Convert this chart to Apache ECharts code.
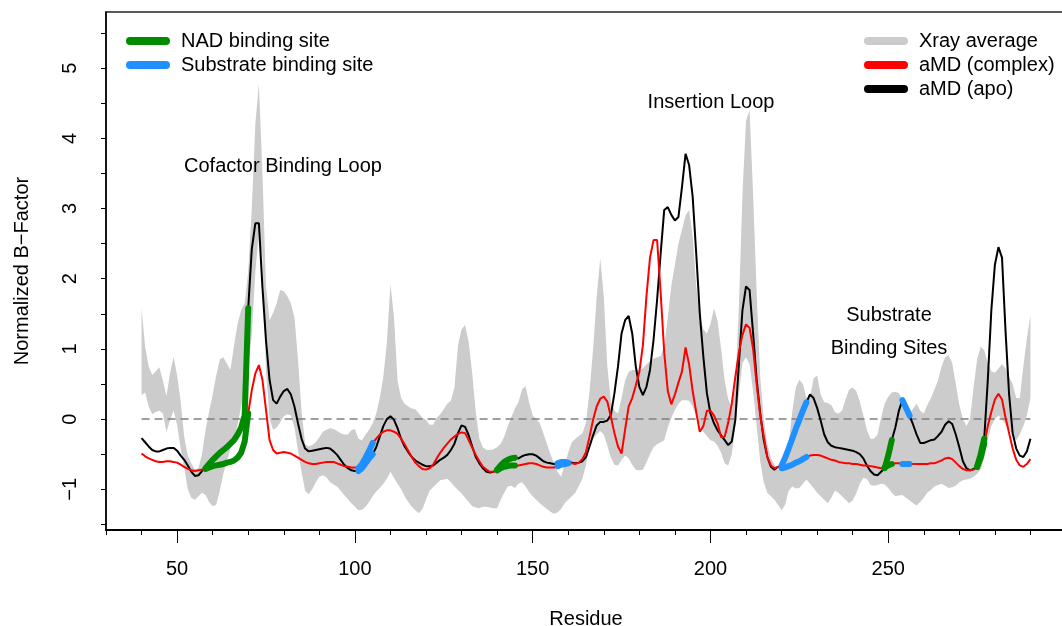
<!DOCTYPE html>
<html>
<head>
<meta charset="utf-8">
<title>Normalized B-Factor</title>
<script src="https://cdn.jsdelivr.net/npm/echarts@6.0.0/dist/echarts.min.js"></script>
<style>
  html, body { margin: 0; padding: 0; background: #fff; }
  #chart { width: 1062px; height: 626px; }
</style>
</head>
<body>
<div id="chart"></div>
<script>
// residues 40..290
const residues = [];
for (let r = 40; r <= 290; r++) residues.push(r);

// aMD (apo), one value per residue
const apo = [
  -0.27, -0.33, -0.39, -0.44, -0.46, -0.46, -0.44, -0.42, -0.41, -0.41,
  -0.45, -0.52, -0.58, -0.66, -0.75, -0.81, -0.80, -0.74, -0.70, -0.64,
  -0.58, -0.53, -0.48, -0.44, -0.40, -0.35, -0.30, -0.22, -0.12, 0.05,
  1.58, 2.42, 2.79, 2.79, 1.88, 1.12, 0.56, 0.27, 0.22, 0.32,
  0.40, 0.43, 0.35, 0.18, -0.06, -0.28, -0.42, -0.46, -0.45, -0.44,
  -0.43, -0.42, -0.41, -0.42, -0.46, -0.51, -0.58, -0.65, -0.70, -0.73,
  -0.74, -0.74, -0.70, -0.63, -0.56, -0.50, -0.40, -0.25, -0.10, 0.00,
  0.04, -0.01, -0.13, -0.28, -0.39, -0.47, -0.54, -0.59, -0.62, -0.65,
  -0.67, -0.67, -0.66, -0.62, -0.58, -0.55, -0.51, -0.44, -0.35, -0.20,
  -0.09, -0.11, -0.23, -0.39, -0.54, -0.63, -0.70, -0.75, -0.76, -0.75,
  -0.72, -0.66, -0.61, -0.58, -0.56, -0.55, -0.56, -0.53, -0.51, -0.50,
  -0.50, -0.52, -0.56, -0.60, -0.62, -0.63, -0.64, -0.63, -0.61, -0.61,
  -0.62, -0.62, -0.63, -0.62, -0.60, -0.54, -0.39, -0.23, -0.09, -0.04,
  -0.04, -0.02, 0.06, 0.37, 0.75, 1.22, 1.41, 1.47, 1.22, 0.75,
  0.46, 0.34, 0.46, 0.70, 1.13, 1.70, 2.36, 2.98, 3.02, 2.91,
  2.83, 2.88, 3.31, 3.78, 3.62, 3.17, 2.36, 1.51, 0.89, 0.37,
  0.08, -0.06, -0.16, -0.23, -0.30, -0.37, -0.32, -0.01, 0.79, 1.55,
  1.89, 1.84, 1.22, 0.56, 0.08, -0.30, -0.54, -0.68, -0.72, -0.68,
  -0.66, -0.55, -0.42, -0.28, -0.14, -0.01, 0.12, 0.24, 0.35, 0.30,
  0.16, -0.02, -0.22, -0.33, -0.38, -0.40, -0.41, -0.42, -0.43, -0.44,
  -0.45, -0.47, -0.50, -0.56, -0.66, -0.74, -0.79, -0.80, -0.75, -0.70,
  -0.52, -0.30, -0.12, 0.12, 0.27, 0.16, 0.05, -0.08, -0.22, -0.34,
  -0.34, -0.32, -0.30, -0.29, -0.24, -0.18, -0.08, -0.03, -0.07, -0.22,
  -0.40, -0.60, -0.70, -0.73, -0.71, -0.68, -0.50, -0.28, 0.55, 1.55,
  2.20, 2.45, 2.30, 1.25, 0.35, -0.20, -0.42, -0.52, -0.54, -0.46, -0.28
];

// aMD (complex)
const complex = [
  -0.49, -0.53, -0.56, -0.58, -0.60, -0.61, -0.61, -0.60, -0.60, -0.61,
  -0.62, -0.65, -0.68, -0.71, -0.73, -0.74, -0.73, -0.72, -0.71, -0.69,
  -0.67, -0.66, -0.65, -0.64, -0.62, -0.61, -0.59, -0.55, -0.48, -0.32,
  0.08, 0.41, 0.65, 0.77, 0.56, 0.13, -0.30, -0.44, -0.49, -0.48,
  -0.47, -0.48, -0.49, -0.52, -0.55, -0.58, -0.61, -0.63, -0.64, -0.64,
  -0.63, -0.62, -0.61, -0.61, -0.61, -0.63, -0.65, -0.67, -0.68, -0.69,
  -0.69, -0.70, -0.64, -0.55, -0.45, -0.34, -0.28, -0.22, -0.18, -0.16,
  -0.16, -0.18, -0.21, -0.28, -0.36, -0.45, -0.54, -0.62, -0.67, -0.71,
  -0.72, -0.70, -0.65, -0.56, -0.48, -0.41, -0.35, -0.29, -0.25, -0.21,
  -0.19, -0.20, -0.30, -0.41, -0.51, -0.60, -0.68, -0.72, -0.75, -0.75,
  -0.73, -0.70, -0.68, -0.67, -0.66, -0.66, -0.66, -0.65, -0.64, -0.63,
  -0.63, -0.64, -0.66, -0.68, -0.69, -0.69, -0.69, -0.67, -0.65, -0.64,
  -0.63, -0.63, -0.64, -0.62, -0.57, -0.47, -0.25, -0.01, 0.18, 0.29,
  0.32, 0.25, 0.03, -0.20, -0.39, -0.49, -0.15, 0.18, 0.30, 0.48,
  0.67, 1.05, 1.75, 2.30, 2.55, 2.55, 1.80, 0.95, 0.40, 0.21,
  0.35, 0.52, 0.68, 1.02, 0.78, 0.40, 0.10, -0.18, -0.10, 0.12,
  0.12, 0.05, -0.06, -0.26, -0.25, -0.05, 0.22, 0.60, 0.95, 1.20,
  1.35, 1.30, 1.00, 0.50, 0.05, -0.25, -0.54, -0.66, -0.70, -0.68,
  -0.70, -0.69, -0.67, -0.65, -0.62, -0.60, -0.57, -0.54, -0.52, -0.51,
  -0.51, -0.52, -0.54, -0.56, -0.58, -0.59, -0.61, -0.62, -0.63, -0.63,
  -0.64, -0.64, -0.65, -0.66, -0.66, -0.67, -0.68, -0.69, -0.70, -0.69,
  -0.66, -0.64, -0.63, -0.63, -0.64, -0.64, -0.64, -0.64, -0.64, -0.64,
  -0.64, -0.64, -0.63, -0.63, -0.61, -0.59, -0.56, -0.55, -0.57, -0.62,
  -0.67, -0.71, -0.73, -0.73, -0.72, -0.68, -0.55, -0.35, -0.10, 0.10,
  0.28, 0.36, 0.28, 0.02, -0.20, -0.42, -0.58, -0.66, -0.68, -0.64, -0.57
];

// Xray average band, upper and lower edge
const xrayHigh = [
  1.58, 1.03, 0.75, 0.63, 0.68, 0.74, 0.55, 0.33, 0.65, 0.89,
  0.62, 0.25, -0.25, -0.52, -0.63, -0.72, -0.70, -0.50, -0.15, 0.10,
  0.35, 0.62, 0.85, 0.88, 0.79, 0.70, 1.05, 1.35, 1.55, 1.65,
  2.10, 3.00, 4.20, 4.78, 3.50, 1.90, 1.41, 1.51, 1.65, 1.84,
  1.82, 1.75, 1.65, 1.45, 0.85, 0.12, -0.36, -0.39, -0.37, -0.33,
  -0.26, -0.18, -0.15, -0.13, -0.14, -0.17, -0.20, -0.22, -0.22, -0.16,
  -0.14, -0.28, -0.30, -0.22, -0.15, -0.06, 0.08, 0.30, 0.60, 1.10,
  1.92, 1.45, 0.55, 0.30, 0.22, 0.18, 0.15, 0.14, 0.08, 0.02,
  -0.01, -0.08, -0.08, 0.02, 0.07, 0.14, 0.22, 0.26, 0.45, 1.05,
  1.28, 1.34, 1.10, 0.65, 0.10, -0.28, -0.40, -0.44, -0.44, -0.43,
  -0.40, -0.35, -0.25, -0.10, 0.03, 0.15, 0.24, 0.42, 0.47, 0.24,
  0.05, 0.00, -0.06, -0.20, -0.35, -0.50, -0.63, -0.75, -0.82, -0.65,
  -0.48, -0.33, -0.28, -0.24, -0.20, -0.05, 0.40, 1.00, 1.74, 2.29,
  1.75, 0.75, 0.25, 0.12, 0.08, 0.30, 0.55, 0.67, 0.70, 0.70,
  0.70, 0.72, 0.78, 0.82, 0.86, 0.88, 0.90, 1.05, 1.45, 1.90,
  2.20, 2.50, 2.70, 2.90, 2.98, 2.60, 1.90, 1.45, 1.28, 1.22,
  1.35, 1.58, 1.40, 1.00, 0.55, 0.28, 0.18, 0.45, 1.60, 3.20,
  4.25, 4.40, 3.20, 1.80, 0.60, 0.00, -0.35, -0.55, -0.65, -0.72,
  -0.70, -0.55, -0.35, 0.10, 0.45, 0.56, 0.50, 0.30, 0.30, 0.58,
  0.62, 0.35, 0.24, 0.23, 0.20, 0.10, 0.08, 0.12, 0.28, 0.42,
  0.45, 0.40, 0.25, 0.05, -0.15, -0.28, -0.28, -0.22, 0.02, 0.22,
  0.32, 0.38, 0.39, 0.37, 0.28, 0.15, 0.08, 0.15, 0.22, 0.12,
  0.08, 0.20, 0.30, 0.42, 0.55, 0.75, 0.88, 0.91, 0.80, 0.50,
  0.20, 0.00, -0.10, 0.00, 0.45, 0.85, 1.03, 0.98, 0.80, 0.68,
  0.66, 0.72, 0.78, 0.72, 0.60, 0.50, 0.30, 0.30, 0.75, 1.15, 1.48
];

const xrayLow = [
  0.34, 0.38, 0.18, 0.07, 0.10, 0.12, 0.08, -0.18, -0.02, 0.12,
  -0.08, -0.42, -0.70, -1.00, -1.12, -1.15, -1.10, -1.05, -1.08, -1.18,
  -1.24, -1.22, -1.02, -0.78, -0.60, -0.42, -0.28, -0.08, 0.18, 0.45,
  0.75, 1.20, 2.10, 2.65, 2.30, 0.70, 0.00, -0.15, -0.12, -0.05,
  0.04, 0.07, 0.05, -0.12, -0.45, -0.75, -1.02, -1.07, -1.00, -0.90,
  -0.82, -0.80, -0.83, -0.90, -0.93, -0.96, -1.02, -1.08, -1.14, -1.20,
  -1.25, -1.30, -1.29, -1.25, -1.18, -1.10, -1.03, -0.98, -0.92, -0.85,
  -0.75, -0.84, -0.92, -1.00, -1.10, -1.18, -1.25, -1.30, -1.34, -1.28,
  -1.15, -1.02, -0.97, -0.92, -0.87, -0.86, -0.85, -0.90, -0.96, -1.01,
  -1.06, -1.12, -1.18, -1.24, -1.26, -1.27, -1.25, -1.25, -1.26, -1.27,
  -1.27, -1.15, -1.05, -0.96, -0.95, -0.98, -0.92, -0.90, -0.96, -1.04,
  -1.10, -1.15, -1.20, -1.24, -1.28, -1.32, -1.35, -1.33, -1.28, -1.20,
  -1.15, -1.10, -1.05, -0.95, -0.85, -0.65, -0.38, -0.28, -0.22, -0.17,
  -0.22, -0.38, -0.55, -0.65, -0.66, -0.58, -0.52, -0.56, -0.65, -0.72,
  -0.73, -0.72, -0.62, -0.50, -0.40, -0.36, -0.33, -0.30, -0.12, 0.02,
  0.13, 0.22, 0.27, 0.27, 0.26, 0.18, 0.04, -0.08, -0.18, -0.24,
  -0.30, -0.32, -0.38, -0.48, -0.63, -0.66, -0.50, -0.10, 0.35, 0.80,
  0.88, 0.78, 0.40, -0.10, -0.60, -0.90, -1.05, -1.10, -1.15, -1.22,
  -1.30, -1.22, -1.02, -0.96, -0.99, -0.98, -0.92, -0.86, -0.92, -0.98,
  -1.05, -1.10, -1.15, -1.20, -1.12, -1.02, -1.05, -1.10, -1.15, -1.20,
  -1.16, -1.06, -0.92, -0.84, -0.85, -0.94, -0.95, -0.94, -0.92, -0.93,
  -0.98, -1.05, -1.10, -1.09, -1.08, -1.12, -1.16, -1.20, -1.23, -1.18,
  -1.12, -1.05, -1.01, -0.96, -0.94, -0.92, -0.95, -0.98, -0.97, -0.95,
  -0.90, -0.87, -0.86, -0.85, -0.82, -0.78, -0.72, -0.55, -0.30, -0.10,
  0.00, 0.05, 0.00, -0.08, -0.14, -0.24, -0.30, -0.22, -0.10, 0.05, 0.30
];

// binding sites, residue ranges
const nadSites = [[58, 70], [140, 145], [249, 251], [275, 277]];
const substrateSites = [[101, 105], [157, 160], [220, 227], [254, 256]];

// axis ticks
const xTicks = [30, 40, 50, 60, 70, 80, 90, 100, 110, 120, 130, 140, 150, 160, 170, 180, 190, 200, 210, 220, 230, 240, 250, 260, 270, 280, 290];
const xLabels = [50, 100, 150, 200, 250];
const yTicks = [-1.5, -1, -0.5, 0, 0.5, 1, 1.5, 2, 2.5, 3, 3.5, 4, 4.5, 5, 5.5];
const yLabels = [-1, 0, 1, 2, 3, 4, 5];

const FONT = '"Liberation Sans", Arial, Helvetica, sans-serif';
const capsule = 'path://M4,0H40A4,4,0,0,1,40,8H4A4,4,0,0,1,4,0Z';

function pairs(values) {
    return residues.map((r, i) => [r, values[i]]);
}

// keep only residues inside one of the site ranges, the rest is a gap
function sitePairs(values, sites) {
    return residues.map((r, i) => {
        let hit = sites.some(s => r >= s[0] && r <= s[1]);
        return [r, hit ? values[i] : '-'];
    });
}

function renderBand(params, api) {
    if (params.dataIndex !== 0) return;
    let pts = [];
    for (let i = 0; i < residues.length; i++) pts.push(api.coord([residues[i], xrayHigh[i]]));
    for (let i = residues.length - 1; i >= 0; i--) pts.push(api.coord([residues[i], xrayLow[i]]));
    return {
        type: 'polygon',
        shape: { points: pts },
        style: { fill: '#cccccc' }
    };
}

function siteSeries(name, color, values, sites) {
    return {
        name: name,
        type: 'line',
        data: sitePairs(values, sites),
        symbol: 'none',
        itemStyle: { color: color },
        lineStyle: { color: color, width: 6, cap: 'round', join: 'round' },
        z: 6,
        silent: true
    };
}

function note(text, x, y) {
    return {
        type: 'text', x: x, y: y, z: 100,
        style: { text: text, font: '20px ' + FONT, fill: '#000', align: 'center', verticalAlign: 'middle' }
    };
}

const chart = echarts.init(document.getElementById('chart'), null, { renderer: 'canvas' });

const textStyle = { fontFamily: FONT, fontSize: 20, color: '#000' };

const option = {
    animation: false,
    backgroundColor: '#fff',
    grid: {
        left: 106, top: 12, width: 960, height: 518,
        show: true, borderColor: '#222', borderWidth: 1.5,
        containLabel: false, outerBoundsMode: 'none'
    },
    legend: [{
        data: ['NAD binding site', 'Substrate binding site'],
        orient: 'vertical',
        left: 121, top: 26,
        icon: capsule,
        itemWidth: 44, itemHeight: 8, itemGap: 4,
        selectedMode: false,
        textStyle: Object.assign({ padding: [0, 0, 0, 6] }, textStyle)
    }, {
        data: ['Xray average', 'aMD (complex)', 'aMD (apo)'],
        orient: 'vertical',
        left: 859, top: 26,
        icon: capsule,
        itemWidth: 44, itemHeight: 8, itemGap: 4,
        selectedMode: false,
        textStyle: Object.assign({ padding: [0, 0, 0, 6] }, textStyle)
    }],
    xAxis: [{
        type: 'value', min: 30, max: 300,
        axisLine: { show: true, onZero: false, lineStyle: { color: '#000', width: 2 } },
        axisTick: { show: true, customValues: xTicks, length: 5, lineStyle: { color: '#000', width: 1 } },
        axisLabel: { show: false },
        splitLine: { show: false }
    }, {
        type: 'value', min: 30, max: 300, position: 'bottom',
        axisLine: { show: false, onZero: false },
        axisTick: { show: true, customValues: xLabels, length: 13, lineStyle: { color: '#000', width: 1 } },
        axisLabel: Object.assign({ customValues: xLabels, margin: 29 }, textStyle),
        splitLine: { show: false },
        name: 'Residue', nameLocation: 'middle', nameGap: 79,
        nameTextStyle: textStyle
    }],
    yAxis: {
        type: 'value', min: -1.58, max: 5.8,
        axisLine: { show: true, onZero: false, lineStyle: { color: '#000', width: 1.5 } },
        axisTick: { show: true, customValues: yTicks, length: 5, lineStyle: { color: '#000', width: 1 } },
        axisLabel: Object.assign({
            customValues: yLabels, rotate: 90, margin: 26,
            formatter: v => v < 0 ? '\u2212' + Math.abs(v) : String(v)
        }, textStyle),
        splitLine: { show: false },
        name: 'Normalized B\u2212Factor', nameLocation: 'middle', nameGap: 74, nameRotate: 90,
        nameTextStyle: textStyle
    },
    graphic: [
        note('Cofactor Binding Loop', 283, 166),
        note('Insertion Loop', 711, 102),
        note('Substrate', 889, 315),
        note('Binding Sites', 889, 348)
    ],
    series: [{
        name: 'Xray average',
        type: 'custom',
        renderItem: renderBand,
        data: [[residues[0], 0]],
        itemStyle: { color: '#cccccc' },
        z: 1,
        silent: true
    }, {
        type: 'line',
        data: [[residues[0], 0], [residues[residues.length - 1], 0]],
        symbol: 'none',
        lineStyle: { color: '#808080', width: 1.5, type: [8, 5] },
        z: 2,
        silent: true
    }, {
        name: 'aMD (apo)',
        type: 'line',
        data: pairs(apo),
        symbol: 'none',
        itemStyle: { color: '#000' },
        lineStyle: { color: '#000', width: 2 },
        z: 3,
        silent: true
    }, {
        name: 'aMD (complex)',
        type: 'line',
        data: pairs(complex),
        symbol: 'none',
        itemStyle: { color: '#ff0000' },
        lineStyle: { color: '#ff0000', width: 2 },
        z: 4,
        silent: true
    },
        siteSeries('NAD binding site', '#008b00', apo, nadSites),
        siteSeries('NAD binding site', '#008b00', complex, nadSites),
        siteSeries('Substrate binding site', '#1e90ff', apo, substrateSites),
        siteSeries('Substrate binding site', '#1e90ff', complex, substrateSites)
    ]
};

chart.setOption(option);
</script>
</body>
</html>
